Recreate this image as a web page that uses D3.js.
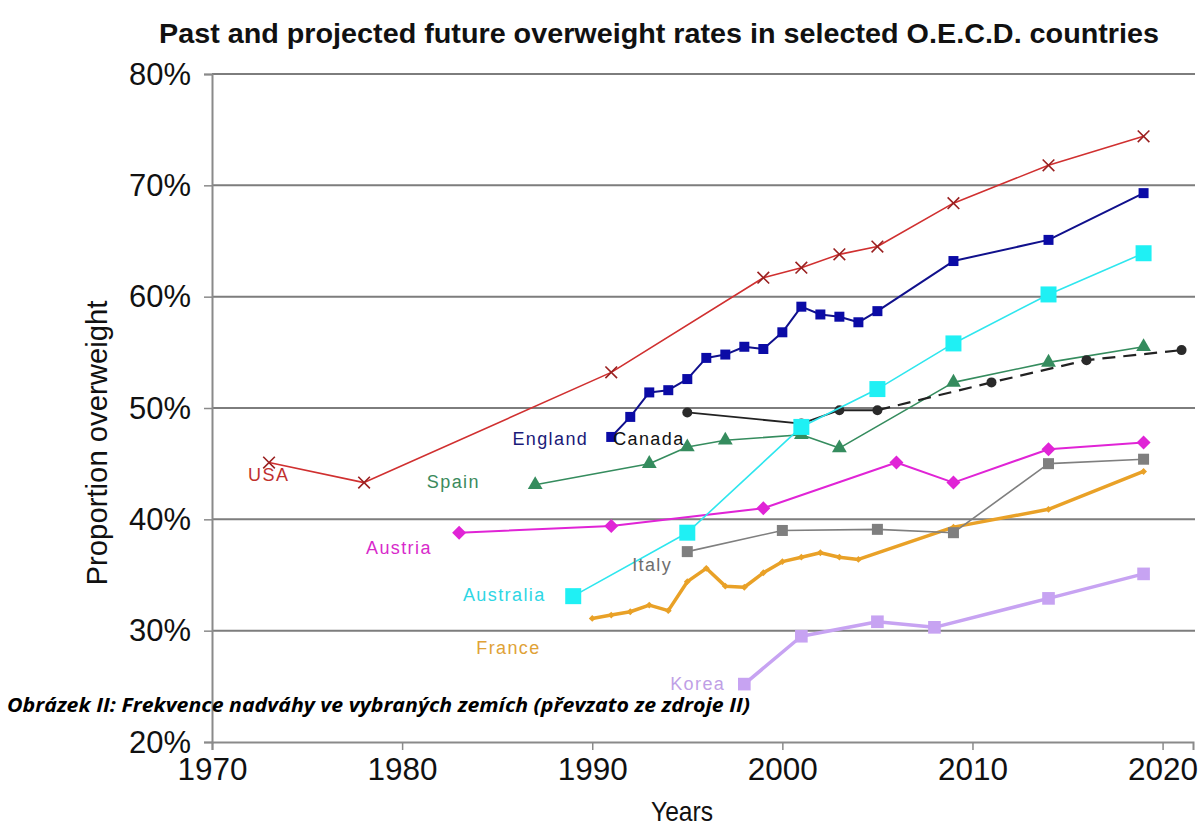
<!DOCTYPE html>
<html>
<head>
<meta charset="utf-8">
<script src="https://cdn.jsdelivr.net/npm/d3@7"></script>
<style>
  body { margin: 0; background: #fff; }
  svg { display: block; }
</style>
</head>
<body>
<svg id="chart" width="1200" height="828"></svg>
<script>
// ---- data (percent overweight by year) ----
const xTicks = [1970, 1980, 1990, 2000, 2010, 2020];
const yTicks = [20, 30, 40, 50, 60, 70, 80];

const usaYears = [1973, 1978, 1991, 1999, 2001, 2003, 2005, 2009, 2014, 2019];
const usaValues = [45.1, 43.3, 53.2, 61.7, 62.6, 63.8, 64.5, 68.4, 71.8, 74.4];

const englandYears = [1991, 1992, 1993, 1994, 1995, 1996, 1997, 1998, 1999, 2000, 2001, 2002, 2003, 2004, 2005, 2009, 2014, 2019];
const englandValues = [47.4, 49.2, 51.4, 51.6, 52.6, 54.5, 54.8, 55.5, 55.3, 56.8, 59.1, 58.4, 58.2, 57.7, 58.7, 63.2, 65.1, 69.3];

const australiaYears = [1989, 1995, 2001, 2005, 2009, 2014, 2019];
const australiaValues = [33.1, 38.8, 48.3, 51.7, 55.8, 60.2, 63.9];

const spainYears = [1987, 1993, 1995, 1997, 2001, 2003, 2009, 2014, 2019];
const spainValues = [43.1, 45.0, 46.5, 47.1, 47.6, 46.4, 52.3, 54.1, 55.5];

const canadaYears = [1995, 2001, 2003, 2005, 2011, 2016, 2021];
const canadaValues = [49.6, 48.6, 49.8, 49.8, 52.3, 54.3, 55.2];
const canadaLastObserved = 2005;

const austriaYears = [1983, 1991, 1999, 2006, 2009, 2014, 2019];
const austriaValues = [38.8, 39.4, 41.0, 45.1, 43.3, 46.3, 46.9];

const italyYears = [1995, 2000, 2005, 2009, 2014, 2019];
const italyValues = [37.1, 39.0, 39.1, 38.8, 45.0, 45.4];

const franceYears = [1990, 1991, 1992, 1993, 1994, 1995, 1996, 1997, 1998, 1999, 2000, 2001, 2002, 2003, 2004, 2009, 2014, 2019];
const franceValues = [31.1, 31.4, 31.7, 32.3, 31.8, 34.4, 35.6, 34.0, 33.9, 35.2, 36.2, 36.6, 37.0, 36.6, 36.4, 39.3, 40.9, 44.3];

const koreaYears = [1998, 2001, 2005, 2008, 2014, 2019];
const koreaValues = [25.2, 29.5, 30.8, 30.3, 32.9, 35.1];

// ---- layout ----
const svg = d3.select("#chart");
const x = d3.scaleLinear().domain([1970, 2021.6]).range([212, 1193]);
const y = d3.scaleLinear().domain([20, 80]).range([742, 74]);
const sans = "'Liberation Sans', Arial, sans-serif";

const zip = (ys, vs) => ys.map((yr, i) => ({ year: yr, value: vs[i] }));

// horizontal gridlines
svg.append("g")
  .selectAll("line")
  .data(yTicks.filter(t => t > 20))
  .join("line")
  .attr("x1", x(1970)).attr("x2", x(2021.6) + 2)
  .attr("y1", d => y(d)).attr("y2", d => y(d))
  .attr("stroke", "#7d7d7d").attr("stroke-width", 2);

// axes
const yAxis = svg.append("g")
  .attr("transform", `translate(${x(1970)},0)`)
  .call(d3.axisLeft(y).tickValues(yTicks).tickSize(8).tickPadding(13).tickFormat(d => d + "%"));
const xAxis = svg.append("g")
  .attr("transform", `translate(0,${y(20)})`)
  .call(d3.axisBottom(x).tickValues(xTicks).tickSize(8).tickPadding(7).tickFormat(d3.format("d")));

[yAxis, xAxis].forEach(a => {
  a.select(".domain").attr("stroke", "#8a8a8a").attr("stroke-width", 2);
  a.selectAll(".tick line").attr("stroke", "#8a8a8a").attr("stroke-width", 1.5);
  a.selectAll(".tick text").attr("fill", "#111")
    .style("font-family", sans).style("font-size", "32px")
    .attr("lengthAdjust", "spacingAndGlyphs");
});
// condensed tick lettering
yAxis.selectAll(".tick text").attr("textLength", 62);
xAxis.selectAll(".tick text").attr("textLength", 70);

// ---- series ----
const line = d3.line().x(d => x(d.year)).y(d => y(d.value));

function drawSeries(data, opt) {
  const g = svg.append("g");
  g.append("path").datum(data).attr("d", line)
    .attr("fill", "none").attr("stroke", opt.color)
    .attr("stroke-width", opt.width).attr("stroke-linejoin", "round");
  const sym = d3.symbol().type(opt.symbol).size(opt.size);
  g.selectAll("path.pt").data(data).join("path").attr("class", "pt")
    .attr("transform", d => `translate(${x(d.year)},${y(d.value)})`)
    .attr("d", sym)
    .attr("fill", opt.stroked ? "none" : opt.markerColor || opt.color)
    .attr("stroke", opt.stroked ? (opt.markerColor || opt.color) : "none")
    .attr("stroke-width", opt.stroked ? 1.6 : 0);
  return g;
}

// France: thick orange line with small markers
drawSeries(zip(franceYears, franceValues), { color: "#e9a127", width: 3.5, symbol: d3.symbolDiamond2, size: 30 });
// Korea
drawSeries(zip(koreaYears, koreaValues), { color: "#c7a3f2", width: 3.5, symbol: d3.symbolSquare, size: 160 });
// Italy
drawSeries(zip(italyYears, italyValues), { color: "#7f7f7f", width: 1.6, symbol: d3.symbolSquare, size: 121 });
// Austria
drawSeries(zip(austriaYears, austriaValues), { color: "#e024d6", width: 2, symbol: d3.symbolDiamond2, size: 125 });
// Spain
drawSeries(zip(spainYears, spainValues), { color: "#358c5e", width: 1.6, symbol: d3.symbolTriangle, size: 95 });

// Canada: observed (solid) then projected (dashed)
const canada = zip(canadaYears, canadaValues);
const cg = svg.append("g");
cg.append("path").datum(canada.filter(d => d.year <= canadaLastObserved)).attr("d", line)
  .attr("fill", "none").attr("stroke", "#222").attr("stroke-width", 1.8);
cg.append("path").datum(canada.filter(d => d.year >= canadaLastObserved)).attr("d", line)
  .attr("fill", "none").attr("stroke", "#222").attr("stroke-width", 2.2)
  .attr("stroke-dasharray", "13,8");
cg.selectAll("circle").data(canada).join("circle")
  .attr("cx", d => x(d.year)).attr("cy", d => y(d.value)).attr("r", 5)
  .attr("fill", "#2a2a2a");

// Australia
drawSeries(zip(australiaYears, australiaValues), { color: "#2ee6ee", width: 1.6, symbol: d3.symbolSquare, size: 256, markerColor: "#1ff0f4" });
// England
drawSeries(zip(englandYears, englandValues), { color: "#10108c", width: 2, symbol: d3.symbolSquare, size: 100, markerColor: "#0b0ba6" });
// USA
drawSeries(zip(usaYears, usaValues), { color: "#d03030", width: 1.6, symbol: d3.symbolTimes, size: 90, stroked: true, markerColor: "#9a2020" });

// ---- series labels (placed in data coordinates) ----
const seriesLabels = [
  { text: "USA", year: 1971.9, value: 43.4, color: "#c0302e" },
  { text: "England", year: 1985.8, value: 46.7, color: "#1a1a78" },
  { text: "Canada", year: 1991.1, value: 46.7, color: "#111" },
  { text: "Spain", year: 1981.3, value: 42.8, color: "#3b8a5c" },
  { text: "Austria", year: 1978.1, value: 36.9, color: "#d82acb" },
  { text: "Italy", year: 1992.1, value: 35.4, color: "#6e6e6e" },
  { text: "Australia", year: 1983.2, value: 32.7, color: "#2ed6e4" },
  { text: "France", year: 1983.9, value: 27.9, color: "#e0a236" },
  { text: "Korea", year: 1994.1, value: 24.7, color: "#bfa0e6" }
];
svg.append("g").selectAll("text").data(seriesLabels).join("text")
  .attr("x", d => x(d.year)).attr("y", d => y(d.value))
  .attr("fill", d => d.color)
  .style("font-family", sans)
  .style("font-size", "18px").style("letter-spacing", "1.4px")
  .text(d => d.text);

// ---- titles ----
svg.append("text")
  .attr("x", 159).attr("y", 43)
  .attr("textLength", 1000).attr("lengthAdjust", "spacingAndGlyphs")
  .style("font-family", sans).style("font-weight", "bold").style("font-size", "28px")
  .attr("fill", "#111")
  .text("Past and projected future overweight rates in selected O.E.C.D. countries");

svg.append("text")
  .attr("transform", "translate(107,443) rotate(-90)")
  .attr("text-anchor", "middle")
  .attr("textLength", 285).attr("lengthAdjust", "spacingAndGlyphs")
  .style("font-family", sans).style("font-size", "30px").attr("fill", "#111")
  .text("Proportion overweight");

svg.append("text")
  .attr("x", 682).attr("y", 821).attr("text-anchor", "middle")
  .attr("textLength", 62).attr("lengthAdjust", "spacingAndGlyphs")
  .style("font-family", sans).style("font-size", "28px").attr("fill", "#111")
  .text("Years");

svg.append("text")
  .attr("x", 7).attr("y", 712)
  .attr("textLength", 743).attr("lengthAdjust", "spacingAndGlyphs")
  .style("font-family", "'Open Sans', 'Noto Sans', sans-serif")
  .style("font-weight", "bold").style("font-style", "italic").style("font-size", "20px")
  .attr("fill", "#000")
  .text("Obrázek II: Frekvence nadváhy ve vybraných zemích (převzato ze zdroje II)");
</script>
</body>
</html>
